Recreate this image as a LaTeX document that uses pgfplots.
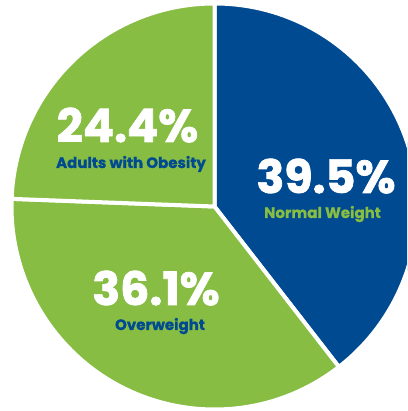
\documentclass[border=0pt]{standalone}
\usepackage{pgfplots}
\pgfplotsset{compat=1.18}
\usepackage{fontspec}
\setmainfont{Poppins}
\newfontfamily\bignum{Poppins}[UprightFont=* Bold, FakeBold=1.6]
\newfontfamily\smalllab{Poppins}[UprightFont=* Bold, FakeBold=0.8]
\definecolor{pieblue}{RGB}{0,74,145}
\definecolor{piegreen}{RGB}{134,189,66}
\begin{document}
\begin{tikzpicture}
\useasboundingbox (0,0) rectangle (407pt,411pt);
\begin{axis}[
  at={(0,0)}, anchor=south west,
  x=1pt, y=1pt, scale only axis,
  xmin=-214.5, xmax=192.5, ymin=-204.5, ymax=206.5,
  axis lines=none, clip=true,
]
% shares in percent: Normal Weight 39.5, Overweight 36.1, Adults with Obesity 24.4
\fill[pieblue, draw=white, line width=4pt] (axis cs:0,0) -- ++(90:203pt)
   arc[start angle=90, end angle={90-3.6*39.5}, radius=203pt] -- cycle;
\fill[piegreen, draw=white, line width=4pt] (axis cs:0,0) -- ++({90-3.6*39.5}:203pt)
   arc[start angle={90-3.6*39.5}, end angle={90-3.6*(39.5+36.1)}, radius=203pt] -- cycle;
\fill[piegreen, draw=white, line width=4pt] (axis cs:0,0) -- ++({90-3.6*(39.5+36.1)}:203pt)
   arc[start angle={90-3.6*(39.5+36.1)}, end angle={90-3.6*(39.5+36.1+24.4)}, radius=203pt] -- cycle;
\node[anchor=base, white, font=\fontsize{46}{46}\bignum] at (axis cs:-87,64.5) {24.4\%};
\node[anchor=base, pieblue, font=\fontsize{15}{15}\smalllab] at (axis cs:-83.5,38.5) {Adults with Obesity};
\node[anchor=base, white, font=\fontsize{46}{46}\bignum] at (axis cs:111.5,13.5) {39.5\%};
\node[anchor=base, piegreen, font=\fontsize{15}{15}\smalllab] at (axis cs:108,-11.5) {Normal Weight};
\node[anchor=base, white, font=\fontsize{46}{46}\bignum] at (axis cs:-58.5,-98.5) {36.1\%};
\node[anchor=base, pieblue, font=\fontsize{15}{15}\smalllab] at (axis cs:-54.5,-123.5) {Overweight};
\end{axis}
\end{tikzpicture}
\end{document}
